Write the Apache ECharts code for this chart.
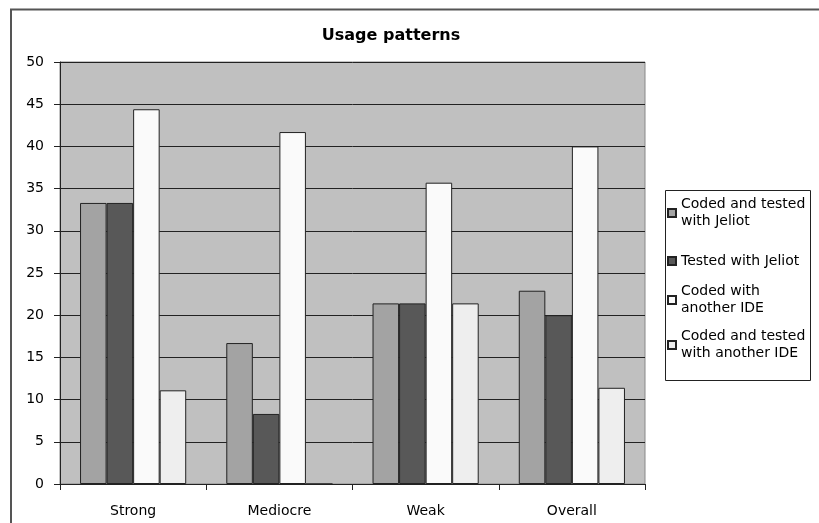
<!DOCTYPE html>
<html><head><meta charset="utf-8">
<script src="https://cdn.jsdelivr.net/npm/echarts@6/dist/echarts.min.js"></script>
<style>html,body{margin:0;padding:0;background:#fff}#c{width:819px;height:523px}</style>
</head><body><div id="c"></div>
<script>
var categories = ['Strong', 'Mediocre', 'Weak', 'Overall'];
var seriesNames = ['Coded and tested with Jeliot', 'Tested with Jeliot', 'Coded with another IDE', 'Coded and tested with another IDE'];
var legendLabels = ['Coded and tested\nwith Jeliot', 'Tested with Jeliot', 'Coded with\nanother IDE', 'Coded and tested\nwith another IDE'];
var codedTestedJeliot = [33.3, 16.7, 21.4, 22.9];
var testedJeliot = [33.3, 8.3, 21.4, 20.0];
var codedOtherIDE = [44.4, 41.7, 35.7, 40.0];
var codedTestedOtherIDE = [11.1, 0, 21.4, 11.4];
var yTicks = [0, 5, 10, 15, 20, 25, 30, 35, 40, 45, 50];

var values = [codedTestedJeliot, testedJeliot, codedOtherIDE, codedTestedOtherIDE];
var colors = ['#a3a3a3', '#585858', '#fafafa', '#eeeeee'];
var legendCenters = [213, 261, 300, 345];
var font = 'DejaVu Sans';

var chart = echarts.init(document.getElementById('c'), null, {renderer: 'canvas'});
var series = seriesNames.map(function (n, i) {
  return {
    name: n, type: 'bar', data: values[i],
    barGap: '0%', barCategoryGap: '27.4%',
    itemStyle: {color: colors[i], borderColor: '#222', borderWidth: 1},
    emphasis: {disabled: true}
  };
});
var legends = seriesNames.map(function (n, i) {
  var twoLine = legendLabels[i].indexOf('\n') >= 0;
  return {
    data: [n], orient: 'vertical', left: 667,
    top: twoLine ? legendCenters[i] - 25.5 : legendCenters[i] - 8.5,
    padding: 0, itemWidth: 8, itemHeight: 8, itemGap: 0,
    icon: 'rect', selectedMode: false,
    formatter: function () { return legendLabels[i]; },
    textStyle: {fontFamily: font, fontSize: 14, color: '#000', lineHeight: 17,
      padding: twoLine ? [17, 0, 0, 0] : [0, 0, 0, 0]}
  };
});
chart.setOption({
  backgroundColor: '#fff',
  animation: false,
  title: {text: 'Usage patterns', left: 386, top: 23, textAlign: 'center',
    textStyle: {fontFamily: font, fontWeight: 'bold', fontSize: 16, color: '#000'}},
  grid: {left: 60, right: 174, top: 62, bottom: 39, show: true, backgroundColor: '#c0c0c0', borderColor: '#888', borderWidth: 1},
  legend: legends,
  xAxis: {type: 'category', data: categories, boundaryGap: true,
    axisLine: {lineStyle: {color: '#222', width: 1}},
    axisTick: {show: true, length: 6, lineStyle: {color: '#222'}},
    axisLabel: {fontFamily: font, fontSize: 14, color: '#000', margin: 20}},
  yAxis: {type: 'value', min: yTicks[0], max: yTicks[yTicks.length - 1], interval: yTicks[1] - yTicks[0],
    axisLine: {show: true, lineStyle: {color: '#222', width: 1}},
    axisTick: {show: true, length: 6, lineStyle: {color: '#222'}},
    splitLine: {show: true, lineStyle: {color: '#222', width: 1}},
    axisLabel: {fontFamily: font, fontSize: 14, color: '#000', margin: 16}},
  graphic: [
    {type: 'line', shape: {x1: 10, y1: 9.5, x2: 819, y2: 9.5}, style: {stroke: '#555', lineWidth: 2}, silent: true},
    {type: 'line', shape: {x1: 11, y1: 9, x2: 11, y2: 523}, style: {stroke: '#555', lineWidth: 2}, silent: true},
    {type: 'rect', shape: {x: 665.5, y: 190.5, width: 145, height: 190}, style: {fill: '#fff', stroke: '#222', lineWidth: 1}, z: -1, silent: true}
  ],
  series: series
});
</script></body></html>
